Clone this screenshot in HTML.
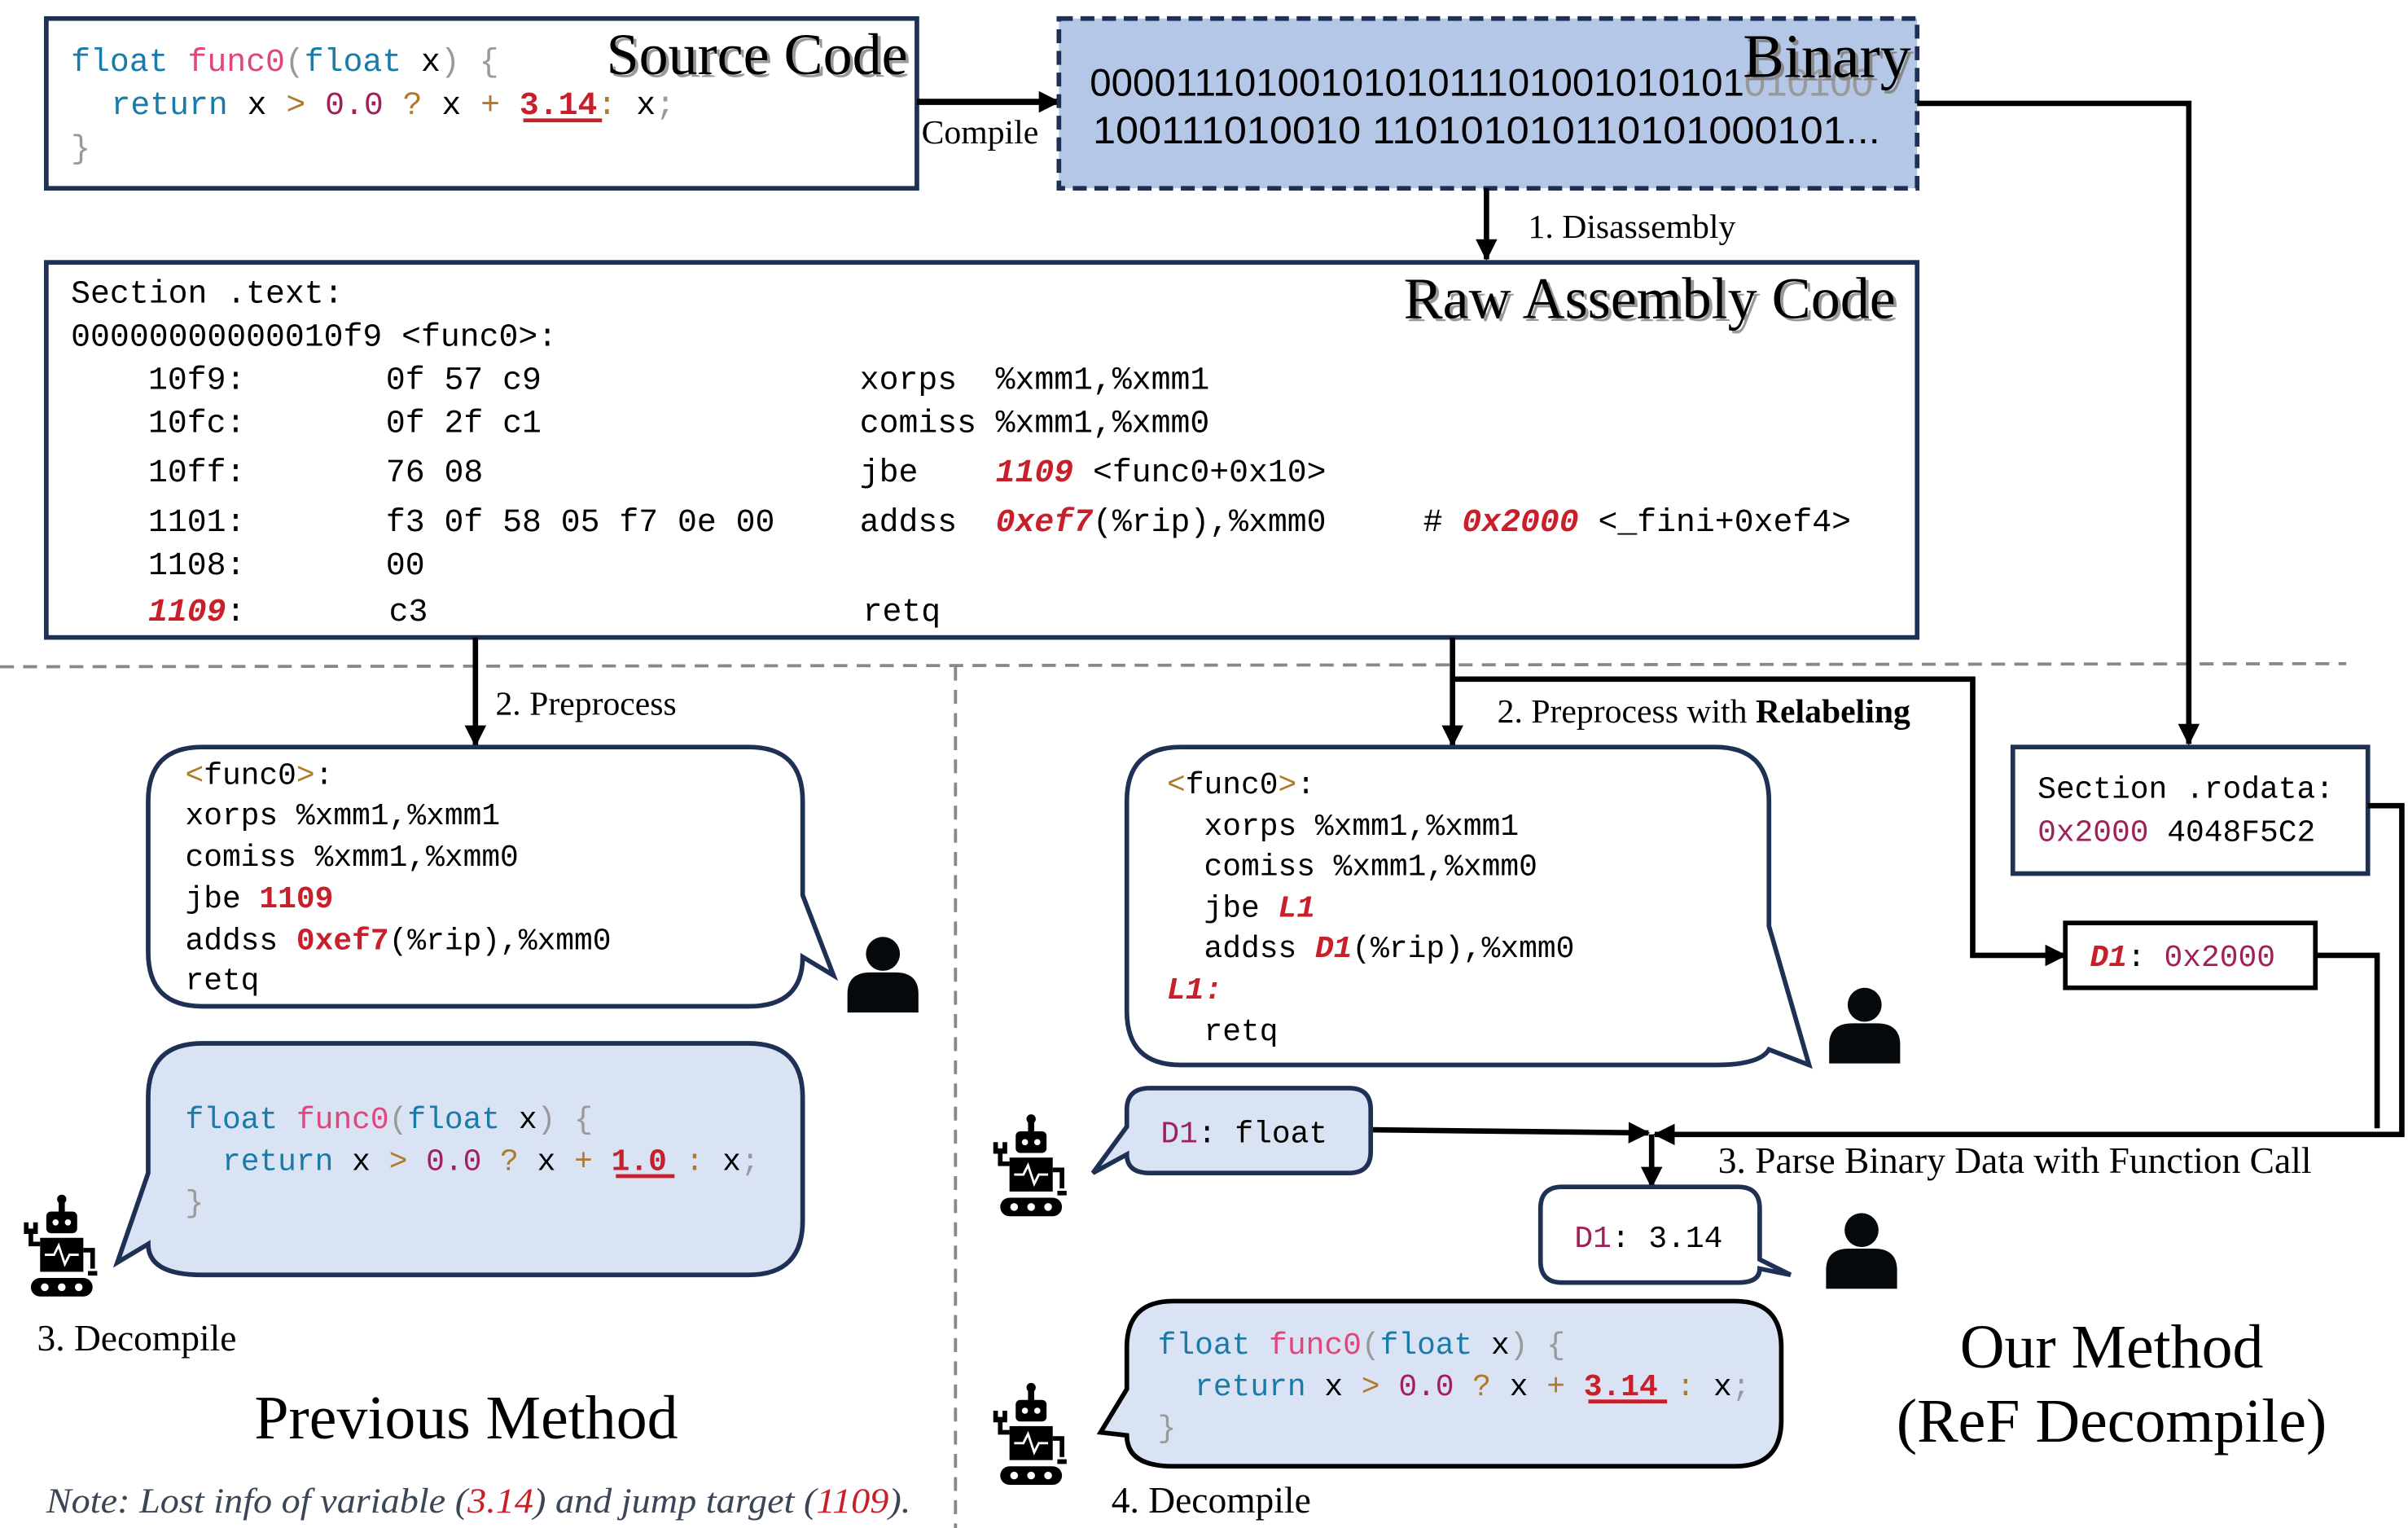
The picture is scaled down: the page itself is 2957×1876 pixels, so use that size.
<!DOCTYPE html>
<html><head><meta charset="utf-8"><style>
html,body{margin:0;padding:0;background:#fff;}
svg{display:block;}
.m{font-family:"Liberation Mono",monospace;}
.s{font-family:"Liberation Serif",serif;}
.b{font-family:"Liberation Sans Narrow","Liberation Sans",sans-serif;}
</style></head><body>
<svg width="2957" height="1876" viewBox="0 0 1560 990" preserveAspectRatio="none" xmlns="http://www.w3.org/2000/svg">
<defs>
<marker id="ahb" markerWidth="14" markerHeight="14" refX="13" refY="7" orient="auto" markerUnits="userSpaceOnUse" viewBox="0 0 14 14"><path d="M0,0 L14,7 L0,14 z" fill="#000"/></marker>
<g id="person"><circle cx="0" cy="-38" r="11" fill="#05090c"/><path d="M-23,0 L-23,-12 Q-23,-26 -8,-26 L8,-26 Q23,-26 23,-12 L23,0 z" fill="#05090c"/></g>
<g id="robot">
<rect x="-2" y="-62" width="4" height="8" fill="#000"/><circle cx="0" cy="-63" r="3" fill="#000"/>
<rect x="-10" y="-55" width="20" height="14" rx="3" fill="#000"/><circle cx="-4" cy="-48" r="2" fill="#fff"/><circle cx="4" cy="-48" r="2" fill="#fff"/>
<rect x="-14" y="-38" width="28" height="22" fill="#000"/><path d="M-11,-27 L-5,-27 L-2,-33 L2,-21 L5,-27 L11,-27" stroke="#fff" stroke-width="1.5" fill="none"/>
<path d="M-14,-34 L-20,-34 L-20,-44 M-23,-48 L-23,-42 L-17,-42 L-17,-48" stroke="#000" stroke-width="3" fill="none"/>
<path d="M14,-30 L20,-30 L20,-18 M17,-15 L23,-15" stroke="#000" stroke-width="3" fill="none"/>
<rect x="-20" y="-12" width="40" height="12" rx="6" fill="#000"/><circle cx="-11" cy="-6" r="2.5" fill="#fff"/><circle cx="0" cy="-6" r="2.5" fill="#fff"/><circle cx="11" cy="-6" r="2.5" fill="#fff"/>
</g>
</defs>

<line x1="0" y1="432" x2="1520" y2="430" stroke="#888" stroke-width="2" stroke-dasharray="9,6"/>
<line x1="619" y1="432" x2="619" y2="990" stroke="#888" stroke-width="2" stroke-dasharray="9,6"/>

<rect x="30" y="12" width="564" height="110" fill="#fff" stroke="#1f3055" stroke-width="3"/>
<g class="m" font-size="21">
<text x="46" y="46"><tspan fill="#1a7aa8">float</tspan> <tspan fill="#e0457b">func0</tspan><tspan fill="#999">(</tspan><tspan fill="#1a7aa8">float</tspan> x<tspan fill="#999">)</tspan> <tspan fill="#999">{</tspan></text>
<text x="72" y="74"><tspan fill="#1a7aa8">return</tspan> x <tspan fill="#b07a2a">&gt;</tspan> <tspan fill="#a0205a">0.0</tspan> <tspan fill="#b07a2a">?</tspan> x <tspan fill="#b07a2a">+</tspan> <tspan fill="#c8202a" font-weight="bold">3.14</tspan><tspan fill="#b07a2a">:</tspan> x<tspan fill="#999">;</tspan></text>
<text x="46" y="102" fill="#999">}</text>
</g>
<line x1="339" y1="78" x2="390" y2="78" stroke="#c8202a" stroke-width="2.5"/>
<text class="s" x="590" y="50" font-size="38" text-anchor="end" fill="#999">Source Code</text>
<text class="s" x="588" y="48" font-size="38" text-anchor="end" fill="#000">Source Code</text>

<line x1="594" y1="66" x2="686" y2="66" stroke="#000" stroke-width="4" marker-end="url(#ahb)"/>
<text class="s" x="597" y="93" font-size="22">Compile</text>

<rect x="686" y="12" width="556" height="110" fill="#b4c7e7" stroke="#1f3055" stroke-width="3" stroke-dasharray="9,5"/>
<text class="b" x="706" y="62" font-size="25" fill="#000" textLength="424" lengthAdjust="spacingAndGlyphs">0000111010010101011101001010101</text>
<text class="b" x="1130" y="62" font-size="25" fill="#999">010100</text>
<text class="b" x="708" y="93" font-size="25" fill="#000" textLength="510" lengthAdjust="spacingAndGlyphs">100111010010 110101010110101000101...</text>
<text class="s" x="1240" y="52" font-size="40" text-anchor="end" fill="#888">Binary</text>
<text class="s" x="1238" y="50" font-size="40" text-anchor="end" fill="#000">Binary</text>

<polyline points="1242,67 1418,67 1418,482" fill="none" stroke="#000" stroke-width="3.5" marker-end="url(#ahb)"/>

<line x1="963" y1="122" x2="963" y2="168" stroke="#000" stroke-width="3.5" marker-end="url(#ahb)"/>
<text class="s" x="990" y="154" font-size="22">1. Disassembly</text>

<rect x="30" y="170" width="1212" height="243" fill="#fff" stroke="#1f3055" stroke-width="3"/>
<text class="s" x="1230" y="208" font-size="38" text-anchor="end" fill="#999">Raw Assembly Code</text>
<text class="s" x="1228" y="206" font-size="38" text-anchor="end">Raw Assembly Code</text>
<g class="m" font-size="21" fill="#000">
<text x="46" y="196">Section .text:</text>
<text x="46" y="224">00000000000010f9 &lt;func0&gt;:</text>
<text x="96" y="252">10f9:</text><text x="250" y="252">0f 57 c9</text><text x="557" y="252">xorps</text><text x="645" y="252">%xmm1,%xmm1</text>
<text x="96" y="280">10fc:</text><text x="250" y="280">0f 2f c1</text><text x="557" y="280">comiss</text><text x="645" y="280">%xmm1,%xmm0</text>
<text x="96" y="312">10ff:</text><text x="250" y="312">76 08</text><text x="557" y="312">jbe</text><text x="645" y="312"><tspan fill="#c8202a" font-weight="bold" font-style="italic">1109</tspan> &lt;func0+0x10&gt;</text>
<text x="96" y="344">1101:</text><text x="250" y="344">f3 0f 58 05 f7 0e 00</text><text x="557" y="344">addss</text><text x="645" y="344"><tspan fill="#c8202a" font-weight="bold" font-style="italic">0xef7</tspan>(%rip),%xmm0</text><text x="922" y="344"># <tspan fill="#c8202a" font-weight="bold" font-style="italic">0x2000</tspan> &lt;_fini+0xef4&gt;</text>
<text x="96" y="372">1108:</text><text x="250" y="372">00</text>
<text x="96" y="402"><tspan fill="#c8202a" font-weight="bold" font-style="italic">1109</tspan>:</text><text x="252" y="402">c3</text><text x="559" y="402">retq</text>
</g>

<line x1="308" y1="413" x2="308" y2="483" stroke="#000" stroke-width="3.5" marker-end="url(#ahb)"/>
<text class="s" x="321" y="463" font-size="22">2. Preprocess</text>

<line x1="941" y1="413" x2="941" y2="483" stroke="#000" stroke-width="3.5" marker-end="url(#ahb)"/>
<polyline points="941,440 1278,440 1278,619 1338,619" fill="none" stroke="#000" stroke-width="3.5" marker-end="url(#ahb)"/>
<text class="s" x="970" y="468" font-size="22">2. Preprocess with <tspan font-weight="bold">Relabeling</tspan></text>

<path d="M131,484 L485,484 Q520,484 520,519 L520,580 L540,632 L520,620 Q520,652 485,652 L131,652 Q96,652 96,617 L96,519 Q96,484 131,484 z" fill="#fff" stroke="#1f3055" stroke-width="3"/>
<g class="m" font-size="20">
<text x="120" y="508"><tspan fill="#b07a2a">&lt;</tspan>func0<tspan fill="#b07a2a">&gt;</tspan>:</text>
<text x="120" y="534">xorps %xmm1,%xmm1</text>
<text x="120" y="561">comiss %xmm1,%xmm0</text>
<text x="120" y="588">jbe <tspan fill="#c8202a" font-weight="bold">1109</tspan></text>
<text x="120" y="615">addss <tspan fill="#c8202a" font-weight="bold">0xef7</tspan>(%rip),%xmm0</text>
<text x="120" y="641">retq</text>
</g>
<use href="#person" x="572" y="656"/>

<path d="M131,676 L485,676 Q520,676 520,711 L520,791 Q520,826 485,826 L131,826 Q96,826 96,806 L76,818 L96,760 L96,711 Q96,676 131,676 z" fill="#dae3f3" stroke="#1f3055" stroke-width="3"/>
<g class="m" font-size="20">
<text x="120" y="731"><tspan fill="#1a7aa8">float</tspan> <tspan fill="#e0457b">func0</tspan><tspan fill="#999">(</tspan><tspan fill="#1a7aa8">float</tspan> x<tspan fill="#999">)</tspan> <tspan fill="#999">{</tspan></text>
<text x="144" y="758"><tspan fill="#1a7aa8">return</tspan> x <tspan fill="#b07a2a">&gt;</tspan> <tspan fill="#a0205a">0.0</tspan> <tspan fill="#b07a2a">?</tspan> x <tspan fill="#b07a2a">+</tspan> <tspan fill="#c8202a" font-weight="bold">1.0</tspan> <tspan fill="#b07a2a">:</tspan> x<tspan fill="#999">;</tspan></text>
<text x="120" y="785" fill="#999">}</text>
</g>
<line x1="399" y1="762" x2="437" y2="762" stroke="#c8202a" stroke-width="2.5"/>
<use href="#robot" x="40" y="840"/>
<text class="s" x="24" y="875" font-size="24">3. Decompile</text>
<text class="s" x="302" y="932" font-size="40" text-anchor="middle">Previous Method</text>
<text class="s" x="30" y="980" font-size="23" font-style="italic" fill="#3a4556" textLength="560" lengthAdjust="spacingAndGlyphs">Note: Lost info of variable (<tspan fill="#c8202a">3.14</tspan>) and jump target (<tspan fill="#c8202a">1109</tspan>).</text>

<path d="M765,484 L1111,484 Q1146,484 1146,519 L1146,600 L1172,690 L1146,680 Q1140,690 1111,690 L765,690 Q730,690 730,655 L730,519 Q730,484 765,484 z" fill="#fff" stroke="#1f3055" stroke-width="3"/>
<g class="m" font-size="20">
<text x="756" y="514"><tspan fill="#b07a2a">&lt;</tspan>func0<tspan fill="#b07a2a">&gt;</tspan>:</text>
<text x="780" y="541">xorps %xmm1,%xmm1</text>
<text x="780" y="567">comiss %xmm1,%xmm0</text>
<text x="780" y="594">jbe <tspan fill="#c8202a" font-weight="bold" font-style="italic">L1</tspan></text>
<text x="780" y="620">addss <tspan fill="#c8202a" font-weight="bold" font-style="italic">D1</tspan>(%rip),%xmm0</text>
<text x="756" y="647" fill="#c8202a" font-weight="bold" font-style="italic">L1:</text>
<text x="780" y="674">retq</text>
</g>
<use href="#person" x="1208" y="689"/>

<rect x="1304" y="484" width="230" height="82" fill="#fff" stroke="#1f3055" stroke-width="3"/>
<g class="m" font-size="20">
<text x="1320" y="517">Section .rodata:</text>
<text x="1320" y="545"><tspan fill="#a0205a">0x2000</tspan> 4048F5C2</text>
</g>
<rect x="1338" y="598" width="162" height="42" fill="#fff" stroke="#000" stroke-width="3"/>
<text class="m" x="1354" y="626" font-size="20"><tspan fill="#c8202a" font-weight="bold" font-style="italic">D1</tspan>: <tspan fill="#a0205a">0x2000</tspan></text>

<polyline points="1534,522 1556,522 1556,735 1072,735" fill="none" stroke="#000" stroke-width="3.5" marker-end="url(#ahb)"/>
<polyline points="1500,619 1540,619 1540,731" fill="none" stroke="#000" stroke-width="3.5"/>
<line x1="888" y1="732" x2="1068" y2="734" stroke="#000" stroke-width="3.5" marker-end="url(#ahb)"/>
<line x1="1070" y1="735" x2="1070" y2="769" stroke="#000" stroke-width="3.5" marker-end="url(#ahb)"/>
<text class="s" x="1113" y="760" font-size="24">3. Parse Binary Data with Function Call</text>

<path d="M745,705 L874,705 Q888,705 888,719 L888,746 Q888,760 874,760 L745,760 Q730,760 730,748 L708,760 L730,730 L730,719 Q730,705 745,705 z" fill="#dae3f3" stroke="#1f3055" stroke-width="3"/>
<text class="m" x="752" y="740" font-size="20"><tspan fill="#a0205a">D1</tspan>: float</text>
<use href="#robot" x="668" y="788"/>

<path d="M1012,769 L1126,769 Q1140,769 1140,783 L1140,816 L1160,826 L1140,822 Q1140,831 1126,831 L1012,831 Q998,831 998,817 L998,783 Q998,769 1012,769 z" fill="#fff" stroke="#1f3055" stroke-width="3"/>
<text class="m" x="1020" y="808" font-size="20"><tspan fill="#a0205a">D1</tspan>: 3.14</text>
<use href="#person" x="1206" y="835"/>

<path d="M760,843 L1124,843 Q1154,843 1154,873 L1154,920 Q1154,950 1124,950 L760,950 Q730,950 730,930 L713,928 L730,900 L730,873 Q730,843 760,843 z" fill="#dae3f3" stroke="#000" stroke-width="3"/>
<g class="m" font-size="20">
<text x="750" y="877"><tspan fill="#1a7aa8">float</tspan> <tspan fill="#e0457b">func0</tspan><tspan fill="#999">(</tspan><tspan fill="#1a7aa8">float</tspan> x<tspan fill="#999">)</tspan> <tspan fill="#999">{</tspan></text>
<text x="774" y="904"><tspan fill="#1a7aa8">return</tspan> x <tspan fill="#b07a2a">&gt;</tspan> <tspan fill="#a0205a">0.0</tspan> <tspan fill="#b07a2a">?</tspan> x <tspan fill="#b07a2a">+</tspan> <tspan fill="#c8202a" font-weight="bold">3.14</tspan> <tspan fill="#b07a2a">:</tspan> x<tspan fill="#999">;</tspan></text>
<text x="750" y="931" fill="#999">}</text>
</g>
<line x1="1029" y1="908" x2="1080" y2="908" stroke="#c8202a" stroke-width="2.5"/>
<use href="#robot" x="668" y="962"/>
<text class="s" x="720" y="980" font-size="24">4. Decompile</text>
<text class="s" x="1368" y="886" font-size="40" text-anchor="middle">Our Method</text>
<text class="s" x="1368" y="934" font-size="40" text-anchor="middle">(ReF Decompile)</text>
</svg>
</body></html>
